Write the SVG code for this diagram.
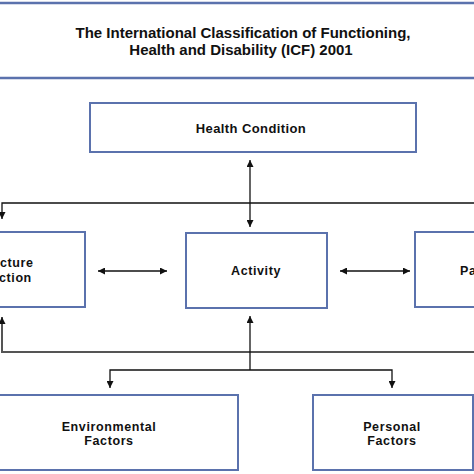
<svg xmlns="http://www.w3.org/2000/svg" width="474" height="474" viewBox="0 0 474 474">
<defs>
<style>
.box{fill:#fff;stroke:#5b72ad;stroke-width:2}
.ttl{stroke:#5b72ad;stroke-width:2.5}
.t{font-family:"Liberation Sans",Arial,sans-serif;font-weight:bold;font-size:12.5px;fill:#111;text-anchor:middle;letter-spacing:0.6px}
.h{font-family:"Liberation Sans",Arial,sans-serif;font-weight:bold;font-size:13px;fill:#111;text-anchor:middle}
.c{stroke:#111;stroke-width:1.3;fill:none}
.g{stroke:#555;stroke-width:2;fill:none}
</style>
<marker id="a" viewBox="0 0 10 10" refX="10" refY="5" markerWidth="7" markerHeight="7" markerUnits="userSpaceOnUse" orient="auto-start-reverse">
<path d="M0,0L10,5L0,10z" fill="#111"/>
</marker>
</defs>
<rect width="474" height="474" fill="#fff"/>
<g id="title">
<line class="ttl" x1="0" y1="3" x2="474" y2="3"/>
<line class="ttl" x1="0" y1="78" x2="474" y2="78"/>
<text class="h" x="243" y="38" style="font-size:15px">The International Classification of Functioning,</text>
<text class="h" x="241" y="55" style="font-size:15px">Health and Disability (ICF) 2001</text>
</g>
<g id="connectors">
<line class="c" x1="250" y1="160" x2="250" y2="227" marker-start="url(#a)" marker-end="url(#a)"/>
<polyline class="c" points="474,203 2,203 2,219" marker-end="url(#a)"/>
<line class="c" x1="98" y1="271" x2="167" y2="271" marker-start="url(#a)" marker-end="url(#a)"/>
<line class="c" x1="340" y1="271" x2="410" y2="271" marker-start="url(#a)" marker-end="url(#a)"/>
<polyline class="g" points="474,352 2,352 2,317" marker-end="url(#a)"/>
<line class="c" x1="250" y1="370" x2="250" y2="316" marker-end="url(#a)"/>
<polyline class="c" points="110,388 110,370 392,370 392,388" marker-start="url(#a)" marker-end="url(#a)"/>
</g>
<g id="health-condition">
<rect class="box" x="90" y="103" width="326" height="49"/>
<text class="h" x="251" y="133" style="letter-spacing:0.4px">Health Condition</text>
</g>
<g id="body-structure">
<rect class="box" x="-10" y="232" width="95" height="75"/>
<text class="t" x="0" y="267" style="text-anchor:start">cture</text>
<text class="t" x="-1" y="282" style="text-anchor:start">ction</text>
</g>
<g id="activity">
<rect class="box" x="186" y="233" width="141" height="75"/>
<text class="t" x="256" y="275">Activity</text>
</g>
<g id="participation">
<rect class="box" x="415" y="232" width="70" height="75"/>
<text class="t" x="460" y="275" style="text-anchor:start">Pa</text>
</g>
<g id="environmental-factors">
<rect class="box" x="-10" y="395" width="248" height="75"/>
<text class="t" x="109" y="431">Environmental</text>
<text class="t" x="109" y="445">Factors</text>
</g>
<g id="personal-factors">
<rect class="box" x="313" y="395" width="160" height="75"/>
<text class="t" x="392" y="431">Personal</text>
<text class="t" x="392" y="445">Factors</text>
</g>
</svg>
